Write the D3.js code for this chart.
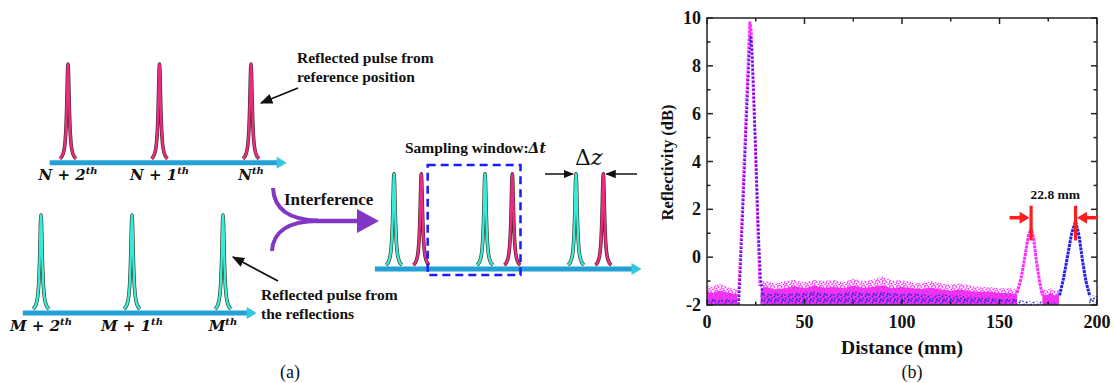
<!DOCTYPE html>
<html><head><meta charset="utf-8">
<script src="https://cdn.jsdelivr.net/npm/d3@7"></script>
<style>body{margin:0;background:#fff}svg{display:block}
.sf{font-family:"Liberation Serif","DejaVu Serif",serif}
.mf{font-family:"DejaVu Serif",serif}
</style>
</head><body>
<svg id="c" width="1115" height="383"></svg>
<script>
// ================= DATA =================
// Panel (a): schematic pulse trains (positions in pulse-period units)
const refPulsePos = [0, 1, 2];
const refPulseLabels = [["N + 2", "th"], ["N + 1", "th"], ["N", "th"]];
const mirPulsePos = [0, 1, 2];
const mirPulseLabels = [["M + 2", "th"], ["M + 1", "th"], ["M", "th"]];
const mixCyanPos = [0, 1, 2];
const mixRedPos = [0.3, 1.3, 2.3];
const windowSpan = [0.37, 1.39];

// Panel (b): reflectivity vs distance
const xTickVals = [0, 50, 100, 150, 200];
const yTickVals = [-2, 0, 2, 4, 6, 8, 10];
// main peak
const peak1X_mag = [16.0, 17.0, 18.5, 20.0, 21.2, 22.0, 22.6, 23.5, 24.8, 26.0, 27.2];
const peak1Y_mag = [-2.0, -0.3, 2.7, 5.8, 8.3, 9.8, 9.5, 7.6, 4.6, 1.4, -1.2];
const peak1X_blue = [16.3, 17.3, 18.8, 20.3, 21.5, 22.3, 23.0, 23.9, 25.2, 26.5, 27.6, 28.6];
const peak1Y_blue = [-2.0, -0.3, 2.7, 5.8, 8.0, 9.2, 8.8, 7.0, 4.0, 1.0, -0.9, -1.6];
// second (magenta) and third (blue) peaks
const peak2X_mag = [159.0, 161.0, 163.0, 164.8, 166.2, 167.5, 169.0, 170.5, 172.0];
const peak2Y_mag = [-1.5, -0.9, 0.0, 0.9, 1.2, 0.8, -0.2, -1.0, -1.6];
const peak3X_blue = [180.8, 182.8, 184.8, 187.0, 189.0, 190.8, 192.5, 194.3, 196.2];
const peak3Y_blue = [-1.6, -0.9, 0.0, 1.0, 1.5, 0.9, -0.1, -1.0, -1.6];
// noise floor envelopes (NaN = no noise points there)
const noiseX    = [0, 3, 6, 9, 12, 15.5, 16, 27.5, 30, 35, 40, 45, 50, 55, 60, 65, 70, 75, 80, 85, 90, 95, 100, 105, 110, 115, 120, 125, 130, 135, 140, 145, 150, 155, 159, 160, 166, 172, 174, 176, 178, 180.5, 181, 196, 198, 200];
const magDense  = [-1.45, -1.5, -1.4, -1.45, -1.5, -1.55, NaN, -1.3, -1.25, -1.35, -1.3, -1.22, -1.3, -1.2, -1.28, -1.25, -1.3, -1.2, -1.28, -1.25, -1.18, -1.3, -1.25, -1.3, -1.33, -1.28, -1.35, -1.4, -1.35, -1.42, -1.45, -1.45, -1.5, -1.5, -1.55, NaN, NaN, -1.55, -1.6, -1.5, -1.6, -1.55, NaN, NaN, NaN, NaN];
const magSparse = [-1.2, -1.25, -1.1, -1.2, -1.3, -1.35, NaN, -1.05, -1.0, -1.1, -1.0, -0.95, -1.05, -0.95, -1.0, -0.95, -1.05, -0.9, -1.0, -0.95, -0.8, -1.0, -0.95, -1.05, -1.1, -1.0, -1.1, -1.15, -1.1, -1.2, -1.25, -1.25, -1.3, -1.3, -1.35, NaN, NaN, -1.35, -1.4, -1.3, -1.4, -1.35, NaN, NaN, NaN, NaN];
const blueTop   = [-1.8, -1.75, -1.8, -1.75, -1.8, -1.8, NaN, -1.5, -1.55, -1.5, -1.55, -1.5, -1.5, -1.45, -1.5, -1.55, -1.5, -1.45, -1.5, -1.5, -1.45, -1.5, -1.55, -1.5, -1.55, -1.6, -1.55, -1.6, -1.6, -1.65, -1.7, -1.7, -1.75, -1.75, -1.75, -1.8, -1.85, -1.85, -1.9, -1.88, -1.9, -1.9, NaN, -1.65, -1.6, -1.62];
const separation = [166.2, 189.0];
const separationLabel = "22.8 mm";

// ================= DRAW =================
const svg = d3.select('#c');
const defs = svg.append('defs');

function makePattern(id, w, h, bg, dots, color, r) {
  const p = defs.append('pattern').attr('id', id).attr('patternUnits', 'userSpaceOnUse')
    .attr('width', w).attr('height', h);
  if (bg) p.append('rect').attr('width', w).attr('height', h).attr('fill', bg);
  dots.forEach(d => p.append('circle').attr('cx', d[0]).attr('cy', d[1]).attr('r', r).attr('fill', color));
}
makePattern('pMagSparse', 7, 5, null, [[1, 1], [4.5, 2], [2.5, 3.8], [6.2, 4.5], [3.3, 0.3], [0.2, 3]], '#ff38ff', 1.0);
makePattern('pMagDense', 5, 4, '#f02ef0', [[1, 1], [3.5, 3]], '#ff8cff', 0.45);
makePattern('pBlue', 7, 6, null, [[1, 1], [4.5, 2.5], [2, 4.5], [6, 5.2], [5.5, 0.5]], '#2a2ad8', 0.95);

// black arrow marker
defs.append('marker').attr('id', 'mBlack').attr('viewBox', '0 0 10 10').attr('refX', 9).attr('refY', 5)
  .attr('markerWidth', 7).attr('markerHeight', 7).attr('orient', 'auto')
  .append('path').attr('d', 'M0,1 L10,5 L0,9 Z').attr('fill', '#111');

// ---------- Panel (a) ----------
const rows = [
  { s: d3.scaleLinear().domain([0, 1]).range([68, 159.5]), base: 162.7, top: 63, ext: [-0.2, 2.39] },
  { s: d3.scaleLinear().domain([0, 1]).range([41, 132]), base: 313, top: 214, ext: [-0.2, 2.37] },
  { s: d3.scaleLinear().domain([0, 1]).range([394, 485]), base: 269, top: 173, ext: [-0.21, 2.72] }
];
const gA = svg.append('g');

function pulse(cx, base, top, fill) {
  const pts = d3.range(-8, 8.01, 0.25).map(dx => [cx + dx, base - 1 - (base - 1 - top) / (1 + Math.pow(dx / 1.45, 2))]);
  const ln = d3.line().curve(d3.curveBasis);
  gA.append('path').attr('d', ln(pts)).attr('fill', 'none').attr('stroke', '#3a2f18').attr('stroke-width', 3.6);
  gA.append('path').attr('d', ln(pts)).attr('fill', 'none').attr('stroke', fill).attr('stroke-width', 2.4);
}
function axisLine(r) {
  const x0 = r.s(r.ext[0]), x1 = r.s(r.ext[1]);
  gA.append('line').attr('x1', x0).attr('x2', x1 - 6).attr('y1', r.base).attr('y2', r.base)
    .attr('stroke', '#23a0d6').attr('stroke-width', 5);
  gA.append('path').attr('d', `M${x1 - 10},${r.base - 6} L${x1},${r.base} L${x1 - 10},${r.base + 6} Z`).attr('fill', '#34c6e4');
}
function label(cx, y, parts) {
  const t = gA.append('text').attr('class', 'mf').attr('x', cx).attr('y', y).attr('text-anchor', 'middle')
    .attr('font-weight', 'bold').attr('font-style', 'italic').attr('font-size', 15).attr('fill', '#111');
  t.append('tspan').text(parts[0]);
  t.append('tspan').attr('dy', -6).attr('font-size', 10).text(parts[1]);
}
const PINK = '#ea2a86', CYAN = '#33ecdc';
refPulsePos.forEach((p, i) => { pulse(rows[0].s(p), rows[0].base, rows[0].top, PINK); label(rows[0].s(p), 180, refPulseLabels[i]); });
axisLine(rows[0]);
mirPulsePos.forEach((p, i) => { pulse(rows[1].s(p), rows[1].base, rows[1].top, CYAN); label(rows[1].s(p), 331, mirPulseLabels[i]); });
axisLine(rows[1]);
mixCyanPos.forEach(p => pulse(rows[2].s(p), rows[2].base, rows[2].top, CYAN));
mixRedPos.forEach(p => pulse(rows[2].s(p), rows[2].base, rows[2].top, PINK));
axisLine(rows[2]);
// sampling window
gA.append('rect').attr('x', rows[2].s(windowSpan[0])).attr('y', 165)
  .attr('width', rows[2].s(windowSpan[1]) - rows[2].s(windowSpan[0])).attr('height', 110)
  .attr('fill', 'none').attr('stroke', '#1a1aff').attr('stroke-width', 2.5).attr('stroke-dasharray', '8,5');

function boldText(x, y, str, size, anchor) {
  return gA.append('text').attr('class', 'sf').attr('x', x).attr('y', y).attr('font-weight', 'bold')
    .attr('font-size', size).attr('text-anchor', anchor || 'start').attr('fill', '#111').text(str);
}
boldText(297, 63, 'Reflected pulse from', 15.5);
boldText(297, 82, 'reference position', 15.5);
boldText(261, 300, 'Reflected pulse from', 15.5);
boldText(261, 319, 'the reflections', 15.5);
boldText(284, 205, 'Interference', 17);
const sw = boldText(405, 153, 'Sampling window:', 15.5);
sw.append('tspan').attr('class', 'mf').attr('font-style', 'italic').attr('font-weight', 'bold').attr('font-size', 14).text('Δt');
const dz = gA.append('text').attr('class', 'mf').attr('x', 575).attr('y', 165).attr('font-size', 22).attr('fill', '#111');
dz.append('tspan').text('Δ');
dz.append('tspan').attr('font-style', 'italic').text('z');

// annotation arrows
gA.append('line').attr('x1', 298).attr('y1', 88).attr('x2', 261).attr('y2', 103).attr('stroke', '#111').attr('stroke-width', 1.8).attr('marker-end', 'url(#mBlack)');
gA.append('line').attr('x1', 278).attr('y1', 281).attr('x2', 233).attr('y2', 257).attr('stroke', '#111').attr('stroke-width', 1.8).attr('marker-end', 'url(#mBlack)');
gA.append('line').attr('x1', 545).attr('y1', 174).attr('x2', rows[2].s(mixCyanPos[2]) - 3).attr('y2', 174).attr('stroke', '#111').attr('stroke-width', 1.5).attr('marker-end', 'url(#mBlack)');
gA.append('line').attr('x1', 637).attr('y1', 174).attr('x2', rows[2].s(mixRedPos[2]) + 3).attr('y2', 174).attr('stroke', '#111').attr('stroke-width', 1.5).attr('marker-end', 'url(#mBlack)');

// interference Y-arrow
const PURPLE = '#8236c6';
gA.append('path').attr('d', 'M273,188 C274,208 288,220 318,220.5').attr('fill', 'none').attr('stroke', PURPLE).attr('stroke-width', 4);
gA.append('path').attr('d', 'M272,251 C273,232 288,221 318,221').attr('fill', 'none').attr('stroke', PURPLE).attr('stroke-width', 4);
gA.append('line').attr('x1', 316).attr('x2', 360).attr('y1', 221).attr('y2', 221).attr('stroke', PURPLE).attr('stroke-width', 4.5);
gA.append('path').attr('d', 'M357,209 L379,221 L357,233 Z').attr('fill', PURPLE);

gA.append('text').attr('class', 'sf').attr('x', 290).attr('y', 378).attr('text-anchor', 'middle').attr('font-size', 18).attr('fill', '#111').text('(a)');

// ---------- Panel (b) ----------
const x = d3.scaleLinear().domain([0, 200]).range([707, 1097]);
const y = d3.scaleLinear().domain([-2, 10]).range([305, 18]);
const gB = svg.append('g');
defs.append('clipPath').attr('id', 'plotClip').append('rect')
  .attr('x', x(0)).attr('y', y(10)).attr('width', x(200) - x(0)).attr('height', y(-2) - y(10));
const data = gB.append('g').attr('clip-path', 'url(#plotClip)');

const idx = d3.range(noiseX.length);
const fringe = d3.area().defined(i => !isNaN(magSparse[i])).x(i => x(noiseX[i])).y0(i => y(magDense[i]) + 1).y1(i => y(magSparse[i]));
const dense = d3.area().defined(i => !isNaN(magDense[i])).x(i => x(noiseX[i])).y0(y(-2)).y1(i => y(magDense[i]));
const blueA = d3.area().defined(i => !isNaN(blueTop[i])).x(i => x(noiseX[i])).y0(y(-2)).y1(i => y(blueTop[i]));
data.append('path').attr('d', fringe(idx)).attr('fill', 'url(#pMagSparse)');
data.append('path').attr('d', dense(idx)).attr('fill', 'url(#pMagDense)');
data.append('path').attr('d', blueA(idx)).attr('fill', 'url(#pBlue)');

const pl = d3.line().x(d => x(d[0])).y(d => y(d[1]));
const zipP = (xs, ys) => xs.map((v, i) => [v, ys[i]]);
function peak(xs, ys, color, w, dash) {
  data.append('path').attr('d', pl(zipP(xs, ys))).attr('fill', 'none').attr('stroke', color)
    .attr('stroke-width', w).attr('stroke-dasharray', dash).attr('stroke-linejoin', 'round');
}
peak(peak1X_mag, peak1Y_mag, '#ff2cff', 3, '3,1');
peak(peak1X_blue, peak1Y_blue, '#2323e6', 2.4, '1.6,2.4');
peak(peak2X_mag, peak2Y_mag, '#ff2cff', 3, '3,0.8');
peak(peak3X_blue, peak3Y_blue, '#2323e6', 3, '3,0.8');

// frame + ticks
gB.append('rect').attr('x', x(0)).attr('y', y(10)).attr('width', x(200) - x(0)).attr('height', y(-2) - y(10))
  .attr('fill', 'none').attr('stroke', '#222').attr('stroke-width', 1.5);
const tickG = gB.append('g').attr('stroke', '#222').attr('stroke-width', 1.5);
d3.range(0, 201, 25).forEach(v => {
  const L = v % 50 === 0 ? 6 : 3.5;
  tickG.append('line').attr('x1', x(v)).attr('x2', x(v)).attr('y1', y(-2)).attr('y2', y(-2) - L);
  tickG.append('line').attr('x1', x(v)).attr('x2', x(v)).attr('y1', y(10)).attr('y2', y(10) + L);
});
d3.range(-2, 10.01, 1).forEach(v => {
  const L = v % 2 === 0 ? 6 : 3.5;
  tickG.append('line').attr('y1', y(v)).attr('y2', y(v)).attr('x1', x(0)).attr('x2', x(0) + L);
  tickG.append('line').attr('y1', y(v)).attr('y2', y(v)).attr('x1', x(200)).attr('x2', x(200) - L);
});
gB.selectAll('.xl').data(xTickVals).enter().append('text').attr('class', 'sf').attr('x', d => x(d)).attr('y', 328)
  .attr('text-anchor', 'middle').attr('font-weight', 'bold').attr('font-size', 18).attr('fill', '#111').text(d => d);
gB.selectAll('.yl').data(yTickVals).enter().append('text').attr('class', 'sf').attr('x', x(0) - 6).attr('y', d => y(d) + 6)
  .attr('text-anchor', 'end').attr('font-weight', 'bold').attr('font-size', 18).attr('fill', '#111').text(d => d);
gB.append('text').attr('class', 'sf').attr('x', 902).attr('y', 354).attr('text-anchor', 'middle').attr('font-weight', 'bold').attr('font-size', 19.5).attr('fill', '#111').text('Distance (mm)');
gB.append('text').attr('class', 'sf').attr('transform', `translate(673,${(y(10) + y(-2)) / 2 + 1}) rotate(-90)`).attr('text-anchor', 'middle').attr('font-weight', 'bold').attr('font-size', 16.5).attr('fill', '#111').text('Reflectivity (dB)');
gB.append('text').attr('class', 'sf').attr('x', 912).attr('y', 378).attr('text-anchor', 'middle').attr('font-size', 18).attr('fill', '#111').text('(b)');

// separation markers
const RED = '#ff1c1c';
separation.forEach((v, i) => {
  gB.append('line').attr('x1', x(v)).attr('x2', x(v)).attr('y1', y(2.15)).attr('y2', y(0.7)).attr('stroke', RED).attr('stroke-width', 3.2);
  const dir = i === 0 ? 1 : -1; // 1: arrow pointing right
  const tip = x(v) - dir * 1.5, ay = y(1.65);
  gB.append('line').attr('x1', tip - dir * 20).attr('x2', tip - dir * 8).attr('y1', ay).attr('y2', ay).attr('stroke', RED).attr('stroke-width', 3.5);
  gB.append('path').attr('d', `M${tip - dir * 10},${ay - 6} L${tip},${ay} L${tip - dir * 10},${ay + 6} Z`).attr('fill', RED);
});
gB.append('text').attr('class', 'sf').attr('x', (x(separation[0]) + x(separation[1])) / 2 + 2).attr('y', 199).attr('text-anchor', 'middle')
  .attr('font-weight', 'bold').attr('font-size', 13.5).attr('fill', '#111').text(separationLabel);
</script>
</body></html>
